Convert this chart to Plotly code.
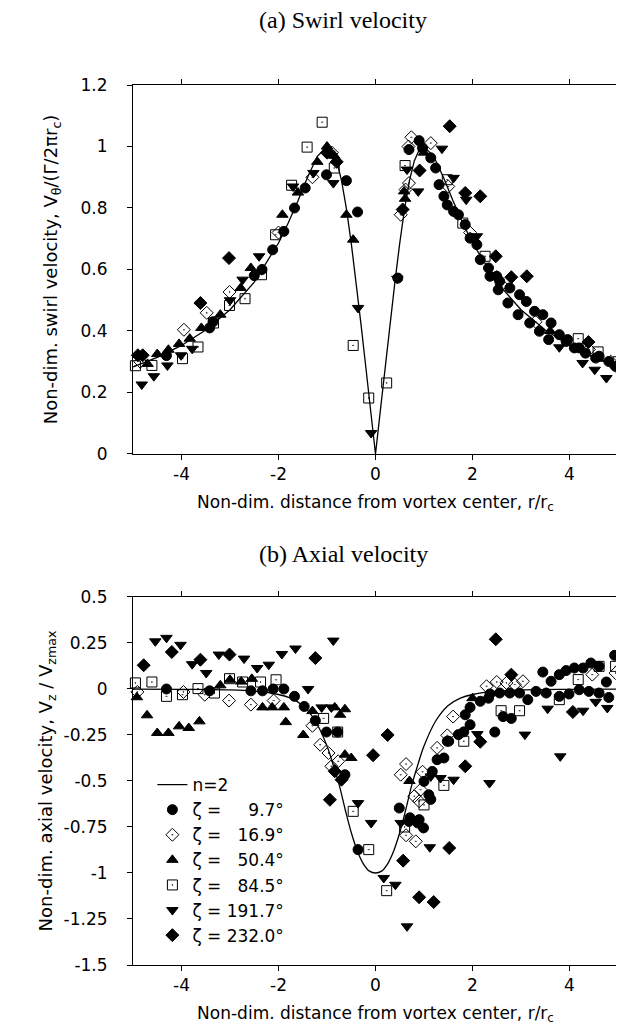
import plotly.graph_objects as go
from plotly.subplots import make_subplots

# ---- model curves (n=2) ----
swirl_model_r = [-5, -4.5, -4, -3.5, -3, -2.5, -2, -1.8, -1.6, -1.4, -1.2, -1, -0.9, -0.8, -0.7,
                 -0.6, -0.5, -0.4, -0.3, -0.2, -0.1, 0, 0.1, 0.2, 0.3, 0.4, 0.5, 0.6, 0.7, 0.8,
                 0.9, 1, 1.2, 1.4, 1.6, 1.8, 2, 2.5, 3, 3.5, 4, 4.5, 5]
swirl_model_v = [0.283, 0.314, 0.353, 0.403, 0.469, 0.559, 0.686, 0.751, 0.823, 0.900, 0.968, 1.0,
                 0.989, 0.953, 0.889, 0.798, 0.686, 0.559, 0.423, 0.283, 0.141, 0.0, 0.141, 0.283,
                 0.423, 0.559, 0.686, 0.798, 0.889, 0.953, 0.989, 1.0, 0.968, 0.900, 0.823, 0.751,
                 0.686, 0.559, 0.469, 0.403, 0.353, 0.314, 0.283]

axial_model_r = [-5, -4, -3, -2.5, -2, -1.75, -1.5, -1.25, -1, -0.875, -0.75, -0.625, -0.5, -0.375,
                 -0.25, -0.125, 0, 0.125, 0.25, 0.375, 0.5, 0.625, 0.75, 0.875, 1, 1.25, 1.5,
                 1.75, 2, 2.5, 3, 4, 5]
axial_model_v = [-0.001, -0.002, -0.005, -0.012, -0.03, -0.05, -0.09, -0.17, -0.31, -0.41, -0.52,
                 -0.655, -0.78, -0.88, -0.95, -0.99, -1.0, -0.99, -0.95, -0.88, -0.78, -0.655,
                 -0.52, -0.41, -0.31, -0.17, -0.09, -0.05, -0.03, -0.012, -0.005, -0.002, -0.001]

# ---- swirl velocity data ----
sw_97_r = [-4.31, -3.42, -3.35, -2.50, -2.34, -2.12, -1.89, -1.67, -1.45, -1.01, -0.60, -0.37,
           0.46, 0.69, 0.90, 0.97, 1.14, 1.24, 1.31, 1.41, 1.48, 1.61, 1.71, 1.85, 1.95, 2.09,
           2.16, 2.33, 2.36, 2.50, 2.53, 2.56, 2.73, 2.77, 2.94, 2.97, 3.11, 3.18, 3.28, 3.38,
           3.45, 3.57, 3.62, 3.79, 3.93, 3.96, 4.10, 4.20, 4.33, 4.54, 4.61, 4.81, 4.95]
sw_97_v = [0.32, 0.41, 0.43, 0.58, 0.60, 0.664, 0.724, 0.80, 0.865, 0.908, 0.889, 0.787,
           0.572, 0.99, 1.019, 0.995, 0.963, 0.93, 0.876, 0.838, 0.81, 0.789, 0.778, 0.746, 0.702,
           0.681, 0.632, 0.605, 0.578, 0.578, 0.534, 0.562, 0.491, 0.54, 0.453, 0.518, 0.496,
           0.426, 0.464, 0.399, 0.453, 0.372, 0.426, 0.388, 0.366, 0.372, 0.345, 0.345, 0.328,
           0.312, 0.318, 0.301, 0.285]

sw_169_r = [-4.85, -3.95, -3.48, -3.01, -2.0, -1.3, -0.9, 0.52, 0.62, 0.68, 0.69, 0.74, 1.14,
            1.5, 1.95, 2.6, 3.3, 4.4, 4.85, 5.0]
sw_169_v = [0.30, 0.404, 0.459, 0.527, 0.72, 0.90, 0.98, 0.778, 0.86, 1.0, 0.881, 1.03, 1.011,
            0.87, 0.72, 0.55, 0.43, 0.34, 0.30, 0.28]

sw_504_r = [-4.70, -4.50, -4.27, -4.05, -3.83, -3.59, -3.20, -2.78, -2.57, -1.92, -1.6, -1.2,
            -1.0, -0.85, -0.60, -0.46, 0.59, 0.61, 1.0, 2.5, 3.6, 4.6]
sw_504_v = [0.293, 0.325, 0.339, 0.358, 0.375, 0.41, 0.453, 0.54, 0.605, 0.778, 0.85, 0.95,
            1.0, 0.97, 0.778, 0.697, 0.854, 0.83, 0.98, 0.58, 0.40, 0.31]

sw_845_r = [-4.95, -4.61, -3.98, -3.66, -3.34, -3.01, -2.69, -2.35, -2.06, -1.73, -1.41, -1.10,
            -0.85, -0.46, -0.14, 0.23, 0.61, 1.48, 1.80, 2.26, 4.18, 4.59, 5.0]
sw_845_v = [0.287, 0.288, 0.310, 0.348, 0.426, 0.483, 0.505, 0.583, 0.713, 0.874, 0.998, 1.079,
            0.93, 0.353, 0.182, 0.231, 0.938, 0.892, 0.751, 0.643, 0.375, 0.332, 0.30]

sw_1917_r = [-4.82, -4.57, -4.29, -4.01, -3.78, -3.0, -2.74, -2.40, -1.70, -1.28, -0.98, -0.87,
             -0.36, -0.09, 0.45, 0.65, 0.88, 1.37, 1.61, 1.87, 2.09, 3.79, 4.27, 4.52, 4.76]
sw_1917_v = [0.226, 0.253, 0.288, 0.321, 0.342, 0.50, 0.567, 0.643, 0.87, 0.914, 0.98, 0.881,
             0.475, 0.068, 0.57, 0.925, 0.854, 0.993, 0.898, 0.827, 0.708, 0.347, 0.296, 0.274,
             0.247]

sw_2320_r = [-4.9, -4.8, -3.61, -3.02, -1.0, -0.8, 0.56, 0.91, 1.53, 1.85, 2.16, 2.48, 2.80,
             3.12, 4.39]
sw_2320_v = [0.321, 0.321, 0.491, 0.637, 0.98, 0.95, 0.795, 0.922, 1.066, 0.849, 0.838, 0.643,
             0.575, 0.578, 0.364]

# ---- axial velocity data ----
ax_97_r = [-4.31, -3.42, -2.57, -2.33, -2.11, -1.89, -1.67, -1.47, -1.24, -1.01, -0.78, -0.63,
           -0.36, 0.49, 0.69, 0.71, 0.87, 0.90, 0.99, 1.00, 1.10, 1.14, 1.17, 1.27, 1.41, 1.48,
           1.51, 1.71, 1.82, 1.85, 1.95, 1.95, 2.16, 2.33, 2.36, 2.46, 2.56, 2.63, 2.77, 2.80,
           2.97, 3.14, 3.31, 3.45, 3.52, 3.62, 3.79, 3.79, 3.93, 3.99, 4.10, 4.20, 4.28, 4.40,
           4.44, 4.61, 4.61, 4.76, 4.81, 4.93]
ax_97_v = [0.0, -0.01, -0.01, -0.01, 0.0, 0.0, -0.04, -0.095, -0.172, -0.234, -0.234, -0.466,
           -0.873, -0.647, -0.72, -0.70, -0.728, -0.71, -0.755, -0.502, -0.575, -0.60, -0.448,
           -0.384, -0.375, -0.284, -0.284, -0.248, -0.233, -0.14, -0.1, -0.194, -0.067, -0.05,
           -0.027, -0.234, -0.022, -0.15, -0.022, -0.16, -0.022, -0.058, -0.013, 0.092, -0.022,
           0.042, -0.04, 0.078, 0.1, -0.027, 0.114, -0.004, 0.114, -0.013, 0.141, 0.123, -0.022,
           0.038, -0.046, 0.183]

ax_169_r = [-4.91, -3.96, -3.52, -3.02, -2.57, -2.10, -1.3, -1.14, -0.97, -0.91, -0.77, 0.52,
            0.63, 0.63, 0.80, 0.83, 0.90, 0.93, 0.97, 1.27, 1.48, 1.6, 2.29, 2.50, 2.70, 2.87,
            3.04, 4.47, 4.95]
ax_169_v = [-0.016, -0.016, -0.031, -0.063, -0.085, -0.063, -0.2, -0.303, -0.348, -0.42, -0.393,
            -0.466, -0.408, -0.795, -0.583, -0.828, -0.61, -0.547, -0.45, -0.32, -0.252, -0.15,
            0.015, 0.038, 0.033, 0.024, 0.042, 0.078, 0.087]

ax_504_r = [-4.92, -4.71, -4.50, -4.27, -4.05, -3.85, -3.63, -3.20, -3.00, -2.77, -2.55, -2.33,
            -2.13, -1.89, -1.85, -1.49, -1.3, -0.84, -0.73, -0.63, -0.63, -0.50, 0.7, 2.0]
ax_504_v = [-0.045, -0.143, -0.239, -0.239, -0.203, -0.212, -0.176, 0.02, 0.05, 0.04, 0.055,
            -0.1, -0.1, -0.1, -0.18, -0.25, -0.12, -0.1, -0.14, -0.11, -0.357, -0.375, -0.5,
            -0.05]

ax_845_r = [-4.95, -4.61, -4.31, -3.98, -3.66, -3.32, -3.01, -2.74, -2.37, -2.05, -1.07, -0.78,
            -0.46, -0.14, 0.23, 0.6, 1.0, 1.41, 1.82, 2.59, 2.97, 3.79, 4.18, 4.61, 4.95]
ax_845_v = [0.033, 0.038, -0.04, -0.031, 0.002, -0.022, 0.056, 0.038, 0.038, 0.05, -0.16,
            -0.234, -0.665, -0.873, -1.096, -0.75, -0.63, -0.524, -0.284, -0.118, -0.118, -0.058,
            0.051, 0.123, 0.123]

ax_1917_r = [-4.54, -4.31, -4.02, -3.78, -3.49, -3.23, -2.71, -2.44, -2.20, -1.93, -1.65, -1.39,
             -1.11, -0.91, -0.87, -0.36, -0.09, 0.17, 0.41, 0.52, 0.65, 1.12, 1.14, 1.34, 1.61,
             2.10, 2.35, 3.08, 3.55, 3.81, 4.28, 4.54, 4.78]
ax_1917_v = [0.259, 0.278, 0.240, 0.135, 0.087, 0.187, 0.165, 0.114, 0.132, 0.19, 0.22, 0.0,
             -0.1, -0.1, 0.263, -0.62, -0.728, -1.027, -1.064, -0.728, -1.29, -0.86, -0.475,
             -0.484, -0.493, -0.245, -0.511, -0.248, -0.107, -0.366, -0.118, -0.07, -0.103]

ax_2320_r = [-4.78, -4.20, -3.61, -3.01, -1.24, -0.94, -0.84, -0.70, -0.05, 0.25, 0.57, 0.90,
             1.20, 1.52, 1.85, 2.16, 2.48, 2.80, 4.07]
ax_2320_v = [0.129, 0.201, 0.159, 0.187, 0.168, -0.602, -0.447, -0.493, -0.36, -0.25, -0.933,
             -1.132, -1.158, -0.864, -0.42, -0.287, 0.27, 0.078, -0.125]

series_names = ["\u03b6 = \u2007\u20079.7\u00b0", "\u03b6 = \u200716.9\u00b0", "\u03b6 = \u200750.4\u00b0",
                "\u03b6 = \u200784.5\u00b0", "\u03b6 = 191.7\u00b0", "\u03b6 = 232.0\u00b0"]
series_symbols = ["circle", "diamond-open-dot", "triangle-up", "square-open-dot",
                  "triangle-down", "diamond"]
swirl_sets = [(sw_97_r, sw_97_v), (sw_169_r, sw_169_v), (sw_504_r, sw_504_v),
              (sw_845_r, sw_845_v), (sw_1917_r, sw_1917_v), (sw_2320_r, sw_2320_v)]
axial_sets = [(ax_97_r, ax_97_v), (ax_169_r, ax_169_v), (ax_504_r, ax_504_v),
              (ax_845_r, ax_845_v), (ax_1917_r, ax_1917_v), (ax_2320_r, ax_2320_v)]

x_ticks = [-4, -2, 0, 2, 4]
x_ticktext = ["-4", "-2", "0", "2", "4"]
swirl_ticks = [0, 0.2, 0.4, 0.6, 0.8, 1, 1.2]
swirl_ticktext = ["0", "0.2", "0.4", "0.6", "0.8", "1", "1.2"]
axial_ticks = [0.5, 0.25, 0, -0.25, -0.5, -0.75, -1, -1.25, -1.5]
axial_ticktext = ["0.5", "0.25", "0", "-0.25", "-0.5", "-0.75", "-1", "-1.25", "-1.5"]

FONT = "DejaVu Sans"

fig = make_subplots(rows=2, cols=1)

fig.add_trace(go.Scatter(x=swirl_model_r, y=swirl_model_v, mode="lines",
                         line=dict(color="black", width=1.3), showlegend=False), row=1, col=1)
fig.add_trace(go.Scatter(x=axial_model_r, y=axial_model_v, mode="lines", name="n=2",
                         line=dict(color="black", width=1.3, shape="spline"), legendrank=1),
              row=2, col=1)

for i in range(6):
    mk = dict(symbol=series_symbols[i], size=10, color="black",
              line=dict(color="black", width=1))
    fig.add_trace(go.Scatter(x=swirl_sets[i][0], y=swirl_sets[i][1], mode="markers",
                             marker=mk, showlegend=False, cliponaxis=False), row=1, col=1)
    fig.add_trace(go.Scatter(x=axial_sets[i][0], y=axial_sets[i][1], mode="markers",
                             marker=mk, name=series_names[i], legendrank=2 + i,
                             cliponaxis=False), row=2, col=1)

axis_style = dict(showline=True, linecolor="black", linewidth=1, mirror="ticks",
                  ticks="outside", ticklen=5, tickcolor="black", tickwidth=1,
                  showgrid=False, zeroline=False,
                  tickfont=dict(family=FONT, size=17, color="black"))

fig.update_xaxes(axis_style)
fig.update_yaxes(axis_style)
fig.update_xaxes(range=[-5, 5], tickvals=x_ticks, ticktext=x_ticktext,
                 title=dict(text="Non-dim. distance from vortex center, r/r<sub>c</sub>",
                            font=dict(family=FONT, size=17, color="black"), standoff=12))
fig.update_yaxes(range=[0, 1.2], tickvals=swirl_ticks, ticktext=swirl_ticktext,
                 ticklabelstandoff=16, domain=[0.5807, 1],
                 title=dict(text="Non-dim. swirl velocity, V<sub>\u03b8</sub>/(\u0393/2\u03c0r<sub>c</sub>)",
                            font=dict(family=FONT, size=18, color="black"), standoff=18),
                 row=1, col=1)
fig.update_yaxes(range=[-1.5, 0.5], tickvals=axial_ticks, ticktext=axial_ticktext,
                 ticklabelstandoff=16, domain=[0, 0.4182],
                 title=dict(text="Non-dim. axial velocity, V<sub>z</sub> / V<sub>zmax</sub>",
                            font=dict(family=FONT, size=18, color="black"), standoff=6),
                 row=2, col=1)

fig.add_annotation(text="(a) Swirl velocity", xref="paper", yref="paper", x=0.434, y=1.074,
                   yanchor="middle", showarrow=False,
                   font=dict(family="Liberation Serif", size=24, color="black"))
fig.add_annotation(text="(b) Axial velocity", xref="paper", yref="paper", x=0.434, y=0.467,
                   yanchor="middle", showarrow=False,
                   font=dict(family="Liberation Serif", size=24, color="black"))

fig.update_layout(width=624, height=1030, margin=dict(l=125, r=8, t=77, b=73),
                  paper_bgcolor="white", plot_bgcolor="white",
                  font=dict(family=FONT, size=17, color="black"),
                  legend=dict(x=0.04, y=0.225, xanchor="left", yanchor="top",
                              bgcolor="rgba(0,0,0,0)", font=dict(family=FONT, size=17),
                              tracegroupgap=0))

fig.write_html("out.html")
